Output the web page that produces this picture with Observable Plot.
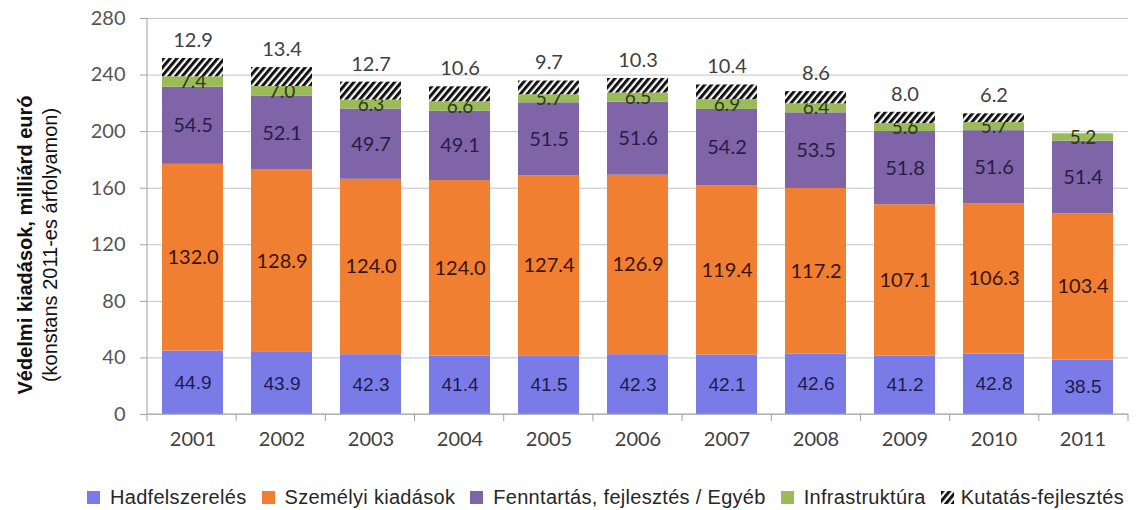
<!DOCTYPE html>
<html>
<head>
<meta charset="utf-8">
<script src="https://cdn.jsdelivr.net/npm/d3@7"></script>
<script src="https://cdn.jsdelivr.net/npm/@observablehq/plot@0.6"></script>
<style>
  body { margin: 0; background: #fff; }
  #legend {
    display: flex; align-items: center; height: 34px;
    padding-left: 87px; font-family: "Liberation Sans", Arial, sans-serif;
    font-size: 20px; letter-spacing: 0.3px; color: #262626; white-space: nowrap;
  }
  #legend .item { display: flex; align-items: center; margin-right: 15px; }
  #legend .sw { width: 13px; height: 13px; margin-right: 10px; display: inline-block; }
</style>
</head>
<body>
<div id="chart"></div>
<div id="legend"></div>
<script>
// Defence spending by category, billion euro at constant 2011 prices
const years = [2001, 2002, 2003, 2004, 2005, 2006, 2007, 2008, 2009, 2010, 2011];
const seriesNames = ["Hadfelszerelés", "Személyi kiadások", "Fenntartás, fejlesztés / Egyéb", "Infrastruktúra", "Kutatás-fejlesztés"];
const hadfelszereles = [44.9, 43.9, 42.3, 41.4, 41.5, 42.3, 42.1, 42.6, 41.2, 42.8, 38.5];
const szemelyi = [132.0, 128.9, 124.0, 124.0, 127.4, 126.9, 119.4, 117.2, 107.1, 106.3, 103.4];
const fenntartas = [54.5, 52.1, 49.7, 49.1, 51.5, 51.6, 54.2, 53.5, 51.8, 51.6, 51.4];
const infrastruktura = [7.4, 7.0, 6.3, 6.6, 5.7, 6.5, 6.9, 6.4, 5.6, 5.7, 5.2];
const kutatas = [12.9, 13.4, 12.7, 10.6, 9.7, 10.3, 10.4, 8.6, 8.0, 6.2, null];
const yTicks = [0, 40, 80, 120, 160, 200, 240, 280];
const yTitle = ["Védelmi kiadások, milliárd euró", "(konstans 2011-es árfolyamon)"];

const seriesValues = [hadfelszereles, szemelyi, fenntartas, infrastruktura, kutatas];
const seriesColors = ["#7b7be8", "#f07f32", "#8064a8", "#9bbb59", "url(#hatch)"];
const labelStyles = [
  {fill: "#1c1c4e", fontFamily: "Liberation Sans, Arial, sans-serif", fontSize: 19},
  {fill: "#3a1208", fontFamily: "Lato, sans-serif", fontSize: 20},
  {fill: "#2a1c44", fontFamily: "Lato, sans-serif", fontSize: 20},
  {fill: "#2c3a16", fontFamily: "Lato, sans-serif", fontSize: 19},
  {fill: "#404040", fontFamily: "Lato, sans-serif", fontSize: 20}
];

// stacked rows: each segment gets its lower and upper bound
const rows = [];
years.forEach((year, i) => {
  let acc = 0;
  seriesNames.forEach((series, s) => {
    const v = seriesValues[s][i];
    if (v == null) return;
    rows.push({year, series, s, value: v, y1: acc, y2: acc + v});
    acc += v;
  });
});

const width = 1144, height = 480;
const margin = {top: 18, right: 16, bottom: 66, left: 147};
const padInner = 0.32;

// axis lines plus the category tick marks between the bars
function axisFrame(index, scales, values, dims) {
  const g = d3.create("svg:g");
  const x0 = dims.marginLeft, x1 = dims.width - dims.marginRight;
  const yb = dims.height - dims.marginBottom, yt = dims.marginTop;
  const step = (x1 - x0) / years.length;
  g.append("line").attr("x1", x0).attr("x2", x0).attr("y1", yt).attr("y2", yb)
    .attr("stroke", "#a0a0a0");
  g.append("line").attr("x1", x0).attr("x2", x1).attr("y1", yb).attr("y2", yb)
    .attr("stroke", "#a0a0a0");
  d3.range(years.length + 1).forEach(k => {
    g.append("line").attr("x1", x0 + k * step).attr("x2", x0 + k * step)
      .attr("y1", yb).attr("y2", yb + 7).attr("stroke", "#a0a0a0");
  });
  return g.node();
}

// two-line rotated y-axis title, centred on the plot's vertical extent
function axisTitle(index, scales, values, dims) {
  const g = d3.create("svg:g")
    .attr("font-family", "Liberation Sans, Arial, sans-serif")
    .attr("font-size", 20).attr("fill", "#111").attr("text-anchor", "middle");
  const cy = dims.marginTop + 227;
  [[25, "bold"], [50, "normal"]].forEach(([cx, weight], k) => {
    g.append("text").attr("transform", `translate(${cx},${cy}) rotate(-90)`)
      .attr("dy", "0.35em").attr("font-weight", weight).text(yTitle[k]);
  });
  return g.node();
}

const solidRows = rows.filter(d => d.s < 4);
const hatchRows = rows.filter(d => d.s === 4);
const fmt = d => d.value.toFixed(1);

const marks = [
  Plot.gridY(yTicks, {stroke: "#c4c4c4", strokeOpacity: 1}),
  Plot.barY(solidRows, {x: "year", y1: "y1", y2: "y2", fill: "series"})
];
for (let s = 0; s < 4; s++) {
  marks.push(Plot.text(rows.filter(d => d.s === s), {
    x: "year", y: d => (d.y1 + d.y2) / 2, text: fmt, ...labelStyles[s]
  }));
}
marks.push(
  Plot.barY(hatchRows, {x: "year", y1: "y1", y2: "y2", fill: "series"}),
  Plot.text(hatchRows, {x: "year", y: "y2", text: fmt, dy: -18, ...labelStyles[4]}),
  axisFrame,
  Plot.axisY(yTicks, {tickSize: 7, tickPadding: 15, stroke: "#a0a0a0", fill: "#555555", label: null}),
  Plot.axisX({tickSize: 0, tickPadding: 17, fill: "#404040", label: null, tickFormat: d => String(d)}),
  axisTitle
);

const chart = Plot.plot({
  width, height,
  marginTop: margin.top, marginRight: margin.right,
  marginBottom: margin.bottom, marginLeft: margin.left,
  style: {fontFamily: "Lato, sans-serif", fontSize: "20px", background: "#fff"},
  x: {type: "band", domain: years, paddingInner: padInner, paddingOuter: padInner / 2, axis: null},
  y: {domain: [0, 280], axis: null},
  color: {domain: seriesNames, range: seriesColors},
  marks
});

// diagonal stripe fill for the R&D segment
const defs = d3.select(chart).insert("defs", ":first-child");
function addHatch(sel, id) {
  const p = sel.append("pattern").attr("id", id)
    .attr("patternUnits", "userSpaceOnUse").attr("width", 5.2).attr("height", 5.2)
    .attr("patternTransform", "rotate(40)");
  p.append("rect").attr("width", 5.2).attr("height", 5.2).attr("fill", "#fff");
  p.append("rect").attr("width", 3).attr("height", 5.2).attr("fill", "#111");
}
addHatch(defs, "hatch");
document.getElementById("chart").appendChild(chart);

// legend row
const legend = d3.select("#legend");
seriesNames.forEach((name, s) => {
  const item = legend.append("div").attr("class", "item");
  if (s < 4) {
    item.append("span").attr("class", "sw").style("background", seriesColors[s]);
  } else {
    const sw = item.append("svg").attr("width", 13).attr("height", 13).style("margin-right", "7px");
    addHatch(sw.append("defs"), "hatch-key");
    sw.append("rect").attr("width", 13).attr("height", 13).attr("fill", "url(#hatch-key)");
  }
  item.append("span").text(name);
});
</script>
</body>
</html>
